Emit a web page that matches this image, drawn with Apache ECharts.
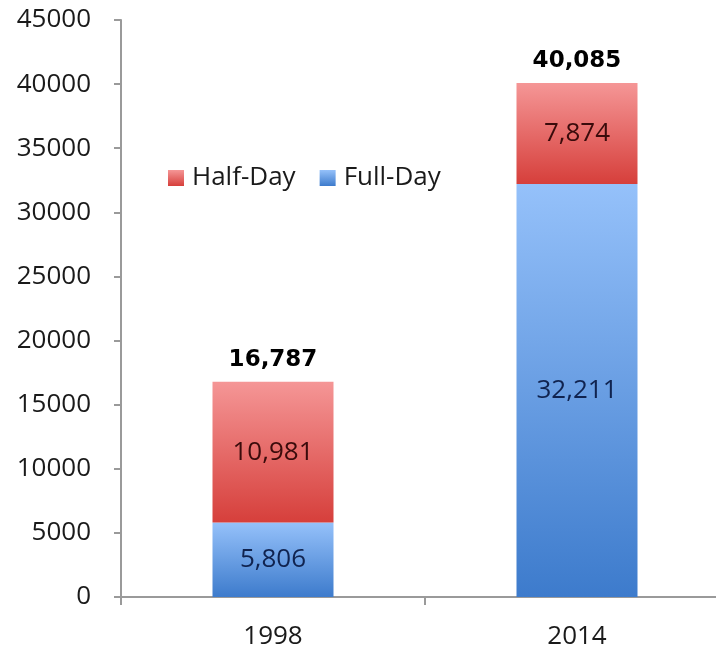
<!DOCTYPE html>
<html>
<head>
<meta charset="utf-8">
<script src="https://cdn.jsdelivr.net/npm/echarts@6/dist/echarts.min.js"></script>
<style>
  html, body { margin: 0; padding: 0; background: #fff; overflow: hidden; }
  #chart { width: 729px; height: 654px; }
</style>
</head>
<body>
<div id="chart"></div>
<script>
// Enrollment by program type
const years = ['1998', '2014'];
const halfDay = [10981, 7874];
const fullDay = [5806, 32211];
const totals = [16787, 40085];
const yTicks = { min: 0, max: 45000, interval: 5000 };

const fmt = v => v.toLocaleString('en-US');

const chart = echarts.init(document.getElementById('chart'));

const grad = (top, bottom) => new echarts.graphic.LinearGradient(0, 0, 0, 1, [
  { offset: 0, color: top },
  { offset: 1, color: bottom }
]);

chart.setOption({
  animation: false,
  backgroundColor: '#ffffff',
  grid: { left: 121, top: 20, right: 0, bottom: 57, containLabel: false },
  legend: {
    left: 163,
    top: 160,
    itemWidth: 16,
    itemHeight: 16,
    itemGap: 24,
    icon: 'rect',
    data: ['Half-Day', 'Full-Day'],
    textStyle: { fontFamily: 'Open Sans', fontSize: 26, color: '#1a1a1a', padding: [0, 0, 0, 3] }
  },
  xAxis: {
    type: 'category',
    data: years,
    axisLine: { lineStyle: { color: '#9a9a9a', width: 2 } },
    axisTick: { show: true, length: 8, lineStyle: { color: '#9a9a9a', width: 2 } },
    axisLabel: { fontFamily: 'Open Sans', fontSize: 26, color: '#1a1a1a', margin: 27 }
  },
  yAxis: {
    type: 'value',
    min: yTicks.min,
    max: yTicks.max,
    interval: yTicks.interval,
    splitLine: { show: false },
    axisLine: { show: true, lineStyle: { color: '#9a9a9a', width: 2 } },
    axisTick: { show: true, length: 7, lineStyle: { color: '#9a9a9a', width: 2 } },
    axisLabel: {
      fontFamily: 'Open Sans', fontSize: 26, color: '#1a1a1a', margin: 30,
      formatter: v => String(v)
    }
  },
  series: [
    {
      name: 'Full-Day',
      type: 'bar',
      stack: 'total',
      barWidth: 121,
      data: fullDay,
      itemStyle: { color: grad('#95c1fa', '#3d7bcc') },
      label: {
        show: true,
        position: 'inside',
        formatter: p => fmt(p.value),
        fontFamily: 'Open Sans',
        fontSize: 26,
        color: '#10234f'
      }
    },
    {
      name: 'Half-Day',
      type: 'bar',
      stack: 'total',
      barWidth: 121,
      data: halfDay,
      itemStyle: { color: grad('#f59696', '#d63f3b') },
      label: {
        show: true,
        position: 'inside',
        formatter: p => fmt(p.value),
        fontFamily: 'Open Sans',
        fontSize: 26,
        color: '#3a0b0b'
      }
    },
    {
      // totals printed above each stacked column
      name: 'Total',
      type: 'scatter',
      data: totals,
      symbolSize: 2,
      itemStyle: { color: 'rgba(0,0,0,0)', opacity: 1 },
      silent: true,
      z: 10,
      label: {
        show: true,
        position: 'top',
        distance: 9,
        formatter: p => fmt(p.value),
        fontFamily: 'DejaVu Sans',
        fontWeight: 'bold',
        fontSize: 23,
        color: '#000000',
        opacity: 1
      }
    }
  ]
});
</script>
</body>
</html>
